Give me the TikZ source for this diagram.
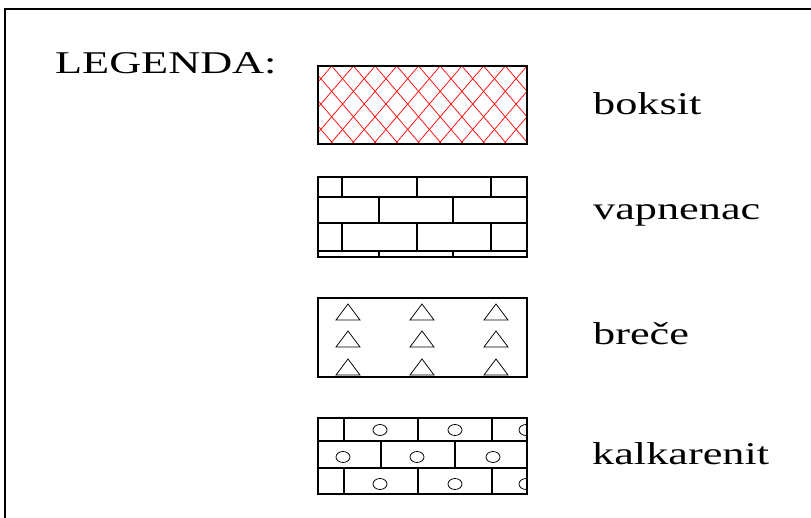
\documentclass[tikz,border=0pt]{standalone}
\usepackage{fontspec}
\setmainfont[FakeStretch=1.4]{Liberation Serif}
\tikzset{>=stealth}

\begin{document}
\begin{tikzpicture}[x = 5mm, y = 5mm,
    box/.style = {line width = 1.7pt},
    hatch/.style = {red, line width = 1pt},
    grain/.style = {line width = 1.1pt},
    lbl/.style = {anchor = base west, inner sep = 0pt, font = \fontsize{45}{54}\selectfont}]
    \useasboundingbox (0,0) rectangle (81.1,51.7);
    \begin{scope}
        \clip (0,0) rectangle (81.1,51.7);
        \draw[line width = 2pt] (0.5,-1) -- (0.5,50.8) -- (82,50.8);
    \end{scope}
    \node[lbl] (legenda) at (5.5,44.3) {LEGENDA:};
    \node[lbl] (boksit) at (59.3,40.2) {boksit};
    \node[lbl] (vapnenac) at (59.3,29.7) {vapnenac};
    \node[lbl] (breca) at (59.3,17.3) {breče};
    \node[lbl] (kalkarenit) at (59.2,5.3) {kalkarenit};
    % boksit
    \begin{scope}
        \clip (31.8,37.3) rectangle (52.7,45.1);
        \foreach \k in {-4,...,13} {
            \draw[hatch] (33.17+\k*2.17,45.1) -- ++(-6.67,-7.8);
            \draw[hatch] (33.17+\k*2.17,45.1) -- ++(6.67,-7.8);
        }
    \end{scope}
    \draw[box] (31.8,37.3) rectangle (52.7,45.1);
    % vapnenac
    \draw[box] (31.8,26) rectangle (52.7,34);
    \draw[box] (31.8,32) -- (52.7,32) (31.8,29.4) -- (52.7,29.4) (31.8,26.6) -- (52.7,26.6);
    \foreach \x in {34.2,41.7,49.1}
        \draw[box] (\x,34) -- (\x,32) (\x,29.4) -- (\x,26.6);
    \foreach \x in {37.9,45.3}
        \draw[box] (\x,32) -- (\x,29.4) (\x,26.6) -- (\x,26);
    % breče
    \draw[box] (31.8,14) rectangle (52.7,21.9);
    \foreach \x in {34.8,42.2,49.6}
        \foreach \y in {19.7,17,14.2}
            \draw[grain] (\x-1.2,\y) -- (\x+1.2,\y) -- (\x,\y+1.6) -- cycle;
    % kalkarenit
    \draw[box] (31.8,2.3) rectangle (52.7,9.9);
    \draw[box] (31.8,7.6) -- (52.7,7.6) (31.8,4.9) -- (52.7,4.9);
    \foreach \x in {34.4,41.8,49.2}
        \draw[box] (\x,9.9) -- (\x,7.6) (\x,4.9) -- (\x,2.3);
    \foreach \x in {38.1,45.5}
        \draw[box] (\x,7.6) -- (\x,4.9);
    \begin{scope}
        \clip (31.8,2.3) rectangle (52.7,9.9);
        \foreach \x in {38,45.5,52.6}
            \foreach \y in {8.7,3.3}
                \draw[grain] (\x,\y) ellipse (0.7 and 0.55);
        \foreach \x in {34.3,41.7,49.3}
            \draw[grain] (\x,6) ellipse (0.7 and 0.55);
    \end{scope}
\end{tikzpicture}
\end{document}
